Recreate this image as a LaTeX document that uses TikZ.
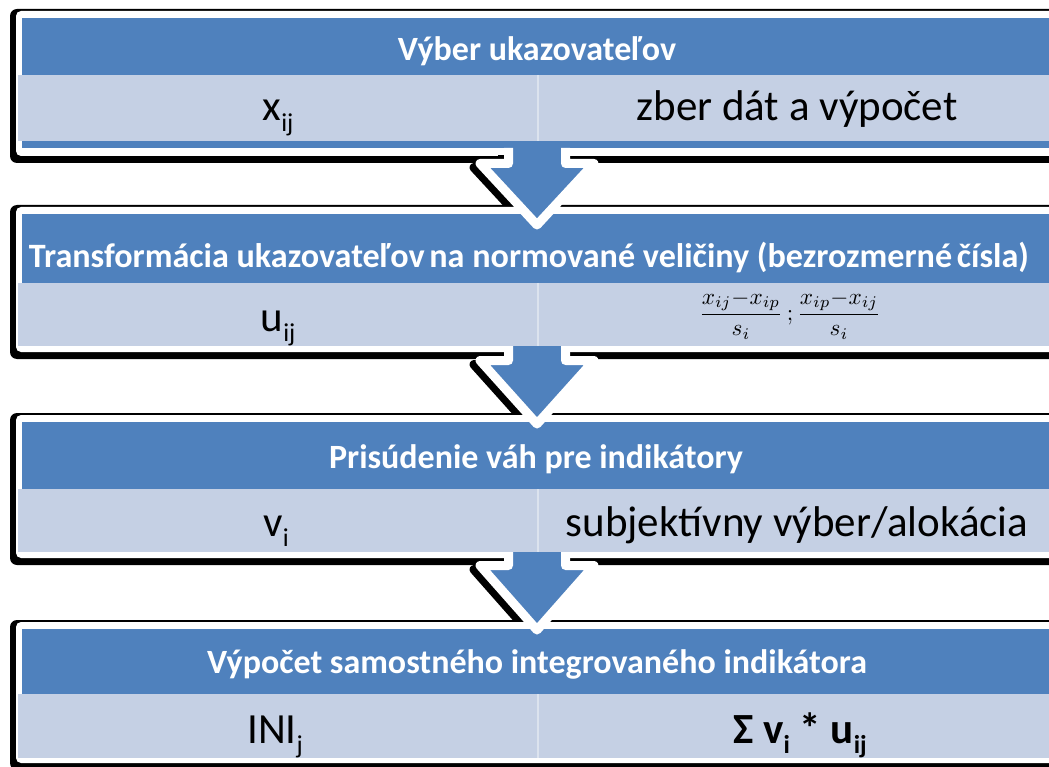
\documentclass[tikz,border=0pt]{standalone}
\usepackage{fontspec}
\setmainfont{Carlito}
\usetikzlibrary{calc}
\definecolor{hdrblue}{HTML}{4F81BD}
\definecolor{rowblue}{HTML}{C5D0E4}
\definecolor{divline}{HTML}{DCE3EE}
% lowered, smaller index text
\newcommand\idx[1]{\raisebox{-0.24em}{\scalebox{0.6}{#1}}}
% one panel: #1 name, #2 top, #3 header bottom, #4 row bottom, #5 white bottom, #6 shadow bottom
\newcommand\paneldraw[6]{%
  \fill[black, rounded corners=7pt] (10,#2-1) rectangle (1080,#6);
  \fill[white, rounded corners=5pt] (16,#2+1) rectangle (1075,#5);
  \fill[hdrblue] (22,#2+8) rectangle (1070,#3);
  \fill[rowblue] (18,#3) rectangle (1070,#4);
  \draw[divline, line width=2pt] (538,#3) -- (538,#4);
  \coordinate (#1-top) at (537,#2);
  \coordinate (#1-bot) at (537,#4);
}
% outline of a block arrow, shifted by (#1,#2)
\newcommand\arrowpath[2]{($(s)+(-28.5+#1,#2)$) -- ($(sh)+(-28.5+#1,#2)$) -- ($(sh)+(-57+#1,#2)$) -- ($(tp)+(#1,#2)$) -- ($(sh)+(57+#1,#2)$) -- ($(sh)+(28.5+#1,#2)$) -- ($(s)+(28.5+#1,#2)$)}
% block arrow: #1 start coordinate, #2 shoulder depth, #3 tip coordinate, #4 shadow clip top, #5 shadow clip bottom
\newcommand\blockarrow[5]{%
  \path (#1) coordinate (s) ++(0,#2) coordinate (sh) (#3) coordinate (tp);
  \begin{scope}
    \clip (0,#4) rectangle (1049,#5);
    \filldraw[black, line width=9pt, line join=round] \arrowpath{-6}{4};
  \end{scope}
  \fill[hdrblue] \arrowpath{0}{0};
  \draw[white, line width=9pt, line join=round] \arrowpath{0}{0};
}
\tikzset{
  hdr/.style={anchor=base, inner sep=0pt, text=white, font=\fontsize{34}{37}\selectfont\bfseries},
  cell/.style={anchor=base, inner sep=0pt, text=black, font=\fontsize{43}{46}\selectfont},
  boldcell/.style={cell, font=\fontsize{43}{46}\selectfont\bfseries},
  fracnode/.style={anchor=base, inner sep=0pt, text=black, font=\normalsize}
}
\begin{document}
\begin{tikzpicture}[x=1pt, y=-1pt]
\useasboundingbox (0,0) rectangle (1049,767);
\clip (0,0) rectangle (1049,767);
\fill[white] (0,0) rectangle (1049,767);

% panels
\paneldraw{p1}{10}{75}{141}{156}{163}
\fill[hdrblue] (22,141) rectangle (1070,148);
\coordinate (p1-bot) at (537,148);
\paneldraw{p2}{206}{283}{346}{352}{359}
\paneldraw{p3}{414}{489}{552}{558}{565}
\paneldraw{p4}{621}{694}{758}{763}{770}

% arrows between panels
\coordinate (t1) at (537,225);
\coordinate (t2) at (537,424);
\coordinate (t3) at (537,630);
\blockarrow{p1-bot}{15.5}{t1}{156}{205}
\blockarrow{p2-bot}{14.5}{t2}{353}{413}
\blockarrow{p3-bot}{13.5}{t3}{559}{620}

% texts
\node[hdr] (h1) at (537,61) {Výber ukazovateľov};
\node[cell] (l1) at (278,121) {x\idx{ij}};
\node[cell] (r1) at (797,121) {zber dát a výpočet};

\node[hdr] (h2) at (529,268) {\resizebox{1000pt}{!}{Transformácia ukazovateľov\kern-3pt{} na normované veličiny (bezrozmerné\kern-3pt{} čísla)}};
\node[cell] (l2) at (278,331) {u\idx{ij}};
\node[fracnode] (r2) at (790,320) {\resizebox{182pt}{!}{$\displaystyle\frac{x_{ij}{-}x_{ip}}{s_i}\,;\frac{x_{ip}{-}x_{ij}}{s_i}$}};

\node[hdr] (h3) at (536,468) {Prisúdenie váh pre indikátory};
\node[cell] (l3) at (276,536) {v\idx{i}};
\node[cell] (r3) at (797,536) {subjektívny výber/alokácia};

\node[hdr] (h4) at (537,673) {Výpočet samostného integrovaného indikátora};
\node[cell] (l4) at (275,743) {INI\idx{j}};
\node[boldcell] (r4) at (800,743) {Σ v\idx{i} * u\idx{ij}};
\end{tikzpicture}
\end{document}
